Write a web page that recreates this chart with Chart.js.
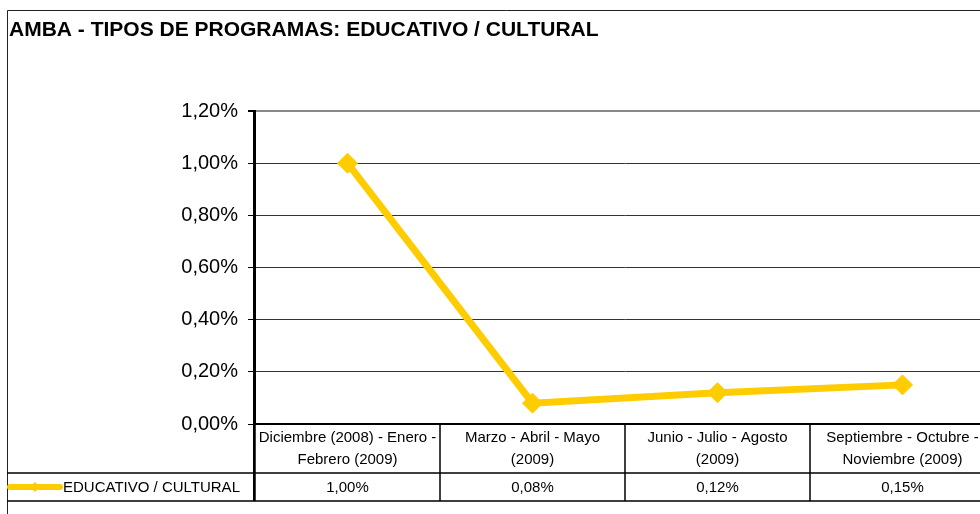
<!DOCTYPE html>
<html>
<head>
<meta charset="utf-8">
<script src="https://cdn.jsdelivr.net/npm/chart.js@4/dist/chart.umd.min.js"></script>
<style>
html,body{margin:0;padding:0;background:#fff;overflow:hidden;width:980px;height:514px;}
#wrap{width:1006px;height:514px;position:relative;}
</style>
</head>
<body>
<div id="wrap"><canvas id="c" width="1006" height="514"></canvas></div>
<script>
const chartTitle = 'AMBA - TIPOS DE PROGRAMAS: EDUCATIVO / CULTURAL';
const categories = [
  ['Diciembre (2008) - Enero -', 'Febrero (2009)'],
  ['Marzo - Abril - Mayo', '(2009)'],
  ['Junio - Julio - Agosto', '(2009)'],
  ['Septiembre - Octubre -', 'Noviembre (2009)']
];
const seriesName = 'EDUCATIVO / CULTURAL';
const seriesValues = [0.0100, 0.0008, 0.0012, 0.0015];
const tickValues = [0, 0.002, 0.004, 0.006, 0.008, 0.010, 0.012];

const GOLD = '#FFCC00';
const FONT = '"Liberation Sans", Arial, sans-serif';
const W = 1006;

function pct(v){ return (v*100).toFixed(2).replace('.', ',') + '%'; }

const tablePlugin = {
  id: 'tablePlugin',
  afterDraw(chart){
    const ctx = chart.ctx;
    const ca = chart.chartArea;
    const xs = chart.scales.x;
    const n = categories.length;
    const half = (xs.getPixelForValue(1) - xs.getPixelForValue(0)) / 2;
    const top = ca.bottom, mid = 473, bot = 501, outerL = 7;
    ctx.save();
    // title
    ctx.fillStyle = '#000';
    ctx.font = 'bold 21px ' + FONT;
    ctx.textBaseline = 'middle';
    ctx.textAlign = 'left';
    ctx.fillText(chartTitle, 9, 30);
    // outer border
    ctx.strokeStyle = '#222';
    ctx.lineWidth = 1;
    ctx.beginPath();
    ctx.moveTo(outerL + 0.5, 514); ctx.lineTo(outerL + 0.5, 10.5); ctx.lineTo(W, 10.5);
    ctx.stroke();
    // table lines
    ctx.strokeStyle = '#000';
    ctx.lineWidth = 2;
    ctx.beginPath();
    ctx.moveTo(ca.left - 1, top); ctx.lineTo(W, top);
    ctx.stroke();
    ctx.lineWidth = 1.5;
    ctx.beginPath();
    ctx.moveTo(outerL, mid); ctx.lineTo(W, mid);
    ctx.moveTo(outerL, bot); ctx.lineTo(W, bot);
    for (let i = 0; i <= n; i++) {
      const x = Math.round(xs.getPixelForValue(i) - half);
      ctx.moveTo(x, top); ctx.lineTo(x, bot);
    }
    ctx.stroke();
    // left axis line continuation
    ctx.lineWidth = 2;
    ctx.beginPath();
    ctx.moveTo(ca.left - 1, ca.top); ctx.lineTo(ca.left - 1, bot);
    ctx.stroke();
    // header text
    ctx.fillStyle = '#000';
    ctx.font = '15px ' + FONT;
    ctx.textAlign = 'center';
    for (let i = 0; i < n; i++) {
      const cx = xs.getPixelForValue(i);
      ctx.fillText(categories[i][0], cx, 438);
      ctx.fillText(categories[i][1], cx, 460);
      ctx.fillText(pct(seriesValues[i]), cx, 488);
    }
    // legend
    ctx.strokeStyle = GOLD;
    ctx.lineWidth = 6;
    ctx.lineCap = 'round';
    ctx.beginPath();
    ctx.moveTo(10, 487); ctx.lineTo(60, 487);
    ctx.stroke();
    ctx.fillStyle = GOLD;
    ctx.beginPath();
    ctx.moveTo(35, 482); ctx.lineTo(40, 487); ctx.lineTo(35, 492); ctx.lineTo(30, 487); ctx.closePath();
    ctx.fill();
    ctx.fillStyle = '#000';
    ctx.textAlign = 'left';
    ctx.fillText(seriesName, 63, 488);
    ctx.restore();
  }
};

new Chart(document.getElementById('c'), {
  type: 'line',
  data: {
    labels: categories.map(c => c.join(' ')),
    datasets: [{
      label: seriesName,
      data: seriesValues,
      borderColor: GOLD,
      backgroundColor: GOLD,
      borderWidth: 7,
      pointStyle: 'rectRot',
      pointRadius: 10,
      pointHoverRadius: 10,
      pointBackgroundColor: GOLD,
      pointBorderColor: GOLD,
      pointBorderWidth: 1,
      tension: 0,
      clip: false
    }]
  },
  options: {
    responsive: false,
    animation: false,
    events: [],
    layout: { padding: { left: 0, right: 5, top: 111, bottom: 90 } },
    plugins: { legend: { display: false }, title: { display: false }, tooltip: { enabled: false } },
    scales: {
      x: {
        type: 'category',
        offset: true,
        display: true,
        ticks: { display: false },
        grid: { display: false, drawTicks: false },
        border: { display: false }
      },
      y: {
        min: 0,
        max: 0.012,
        afterBuildTicks(scale){ scale.ticks = tickValues.map(v => ({ value: v })); },
        afterFit(scale){ scale.width = 255; },
        ticks: {
          callback: v => pct(v),
          color: '#000',
          font: { family: FONT, size: 20 },
          padding: 10
        },
        grid: {
          color: ctx => (ctx.tick && Math.abs(ctx.tick.value - 0.012) < 1e-9) ? '#888' : '#333',
          lineWidth: ctx => (ctx.tick && Math.abs(ctx.tick.value - 0.012) < 1e-9) ? 2 : 1,
          tickColor: '#000',
          tickLength: 7,
          drawTicks: true
        },
        border: { display: true, color: '#000', width: 2 }
      }
    }
  },
  plugins: [tablePlugin]
});
</script>
</body>
</html>
